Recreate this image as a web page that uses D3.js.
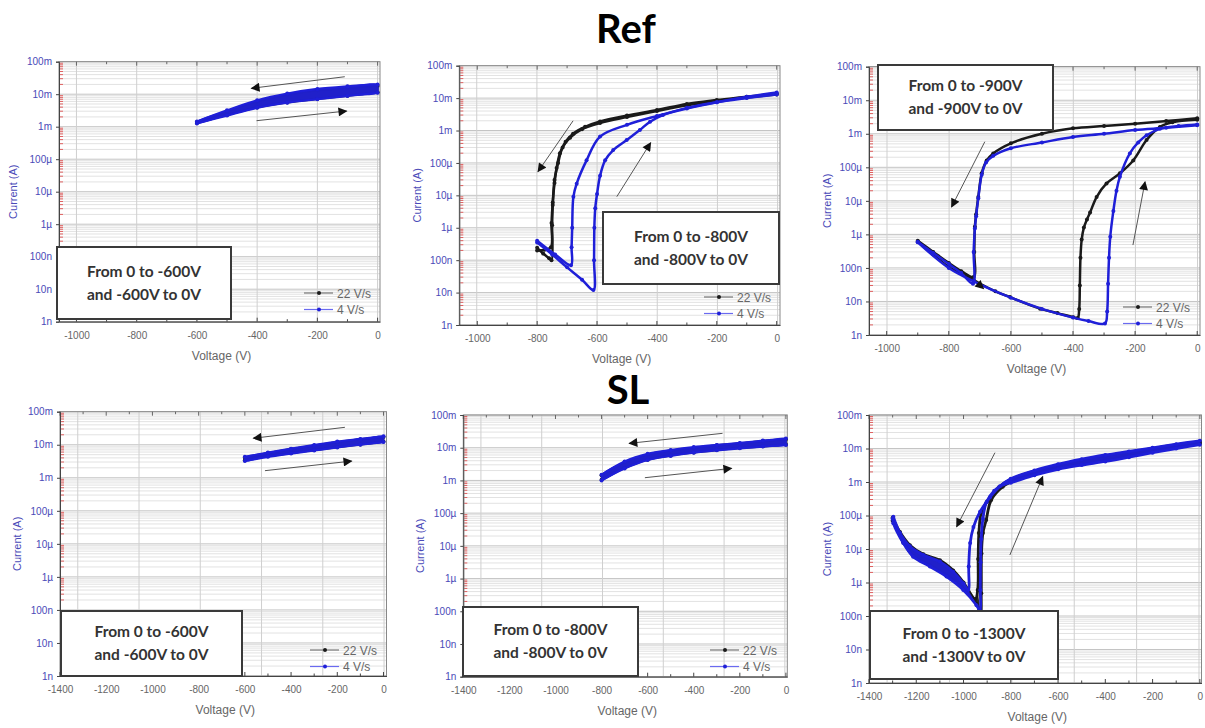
<!DOCTYPE html>
<html><head><meta charset="utf-8">
<script src="https://cdn.jsdelivr.net/npm/d3@7"></script>
<style>body{margin:0;background:#fff;} svg{display:block}</style>
</head><body>
<svg id="c" width="1205" height="728"></svg>
<script>
// ---------- labels / ticks ----------
const groupTitles = ["Ref", "SL"];
const xTicksTop = [-1000, -800, -600, -400, -200, 0];
const xTicksBottom = [-1400, -1200, -1000, -800, -600, -400, -200, 0];
const gridTicks = [-1000, -800, -600, -400, -200, 0];
const yTickValues = [1e-9, 1e-8, 1e-7, 1e-6, 1e-5, 1e-4, 1e-3, 1e-2, 1e-1];
const yTickLabels = ["1n", "10n", "100n", "1µ", "10µ", "100µ", "1m", "10m", "100m"];
const seriesNames = ["22 V/s", "4 V/s"];
const xLabel = "Voltage (V)";
const yLabel = "Current (A)";
const boxTexts = [
  ["From 0 to -600V", "and -600V to 0V"],
  ["From 0 to -800V", "and -800V to 0V"],
  ["From 0 to -900V", "and -900V to 0V"],
  ["From 0 to -600V", "and -600V to 0V"],
  ["From 0 to -800V", "and -800V to 0V"],
  ["From 0 to -1300V", "and -1300V to 0V"]
];

// ---------- data: [voltage (V), current (A)] ----------
// Ref, 0 to -600 V
const ref600_22_fwd = [[0,1.8e-2],[-100,1.55e-2],[-200,1.3e-2],[-300,9.5e-3],[-400,6.0e-3],[-500,3.0e-3],[-600,1.4e-3]];
const ref600_22_ret = [[-600,1.3e-3],[-500,2.3e-3],[-400,3.9e-3],[-300,5.6e-3],[-200,7.2e-3],[-100,9.0e-3],[0,1.15e-2]];
const ref600_4_fwd  = [[0,2.0e-2],[-100,1.75e-2],[-200,1.45e-2],[-300,1.05e-2],[-400,6.5e-3],[-500,3.2e-3],[-600,1.45e-3]];
const ref600_4_ret  = [[-600,1.25e-3],[-500,2.2e-3],[-400,3.8e-3],[-300,5.5e-3],[-200,7.0e-3],[-100,8.8e-3],[0,1.1e-2]];
// Ref, 0 to -800 V
const ref800_22_fwd = [[0,1.4e-2],[-100,1.1e-2],[-200,8.7e-3],[-300,6.6e-3],[-400,4.3e-3],[-500,2.9e-3],[-590,1.9e-3],[-640,1.3e-3],[-680,8e-4],[-705,4.5e-4],[-724,2e-4],[-735,7e-5],[-742,2.4e-5],[-748,6e-6],[-752,1.4e-6],[-754,2.5e-7],[-775,2.1e-7],[-800,2.0e-7]];
const ref800_22_ret = [[-800,2.4e-7],[-780,1.6e-7],[-760,1.15e-7],[-752,1.0e-7],[-750,1.2e-6],[-748,5e-6],[-742,3e-5],[-730,1e-4],[-715,3e-4],[-690,6e-4],[-650,1.1e-3],[-590,1.7e-3],[-500,2.6e-3],[-400,4.0e-3],[-300,6.0e-3],[-200,8.2e-3],[-100,1.05e-2],[0,1.3e-2]];
const ref800_4_fwd  = [[0,1.5e-2],[-100,1.1e-2],[-200,7.5e-3],[-300,4.8e-3],[-400,2.8e-3],[-500,1.5e-3],[-590,6.5e-4],[-635,1.2e-4],[-668,2.3e-5],[-679,9e-6],[-683,1e-6],[-685,2.5e-7],[-687,7e-8],[-740,1.5e-7],[-800,4e-7]];
const ref800_4_ret  = [[-800,3.5e-7],[-750,1.5e-7],[-700,6e-8],[-650,2.5e-8],[-612,1.2e-8],[-610,1e-7],[-609,1e-6],[-606,4e-6],[-600,1.1e-5],[-590,4e-5],[-573,1.2e-4],[-546,2.5e-4],[-501,5.1e-4],[-457,1.04e-3],[-423,1.87e-3],[-380,3.0e-3],[-300,5.0e-3],[-200,7.5e-3],[-100,1.0e-2],[0,1.3e-2]];
// Ref, 0 to -900 V
const ref900_22_fwd = [[0,2.9e-3],[-100,2.4e-3],[-200,2.0e-3],[-300,1.7e-3],[-400,1.45e-3],[-500,1.0e-3],[-600,5.2e-4],[-657,2.6e-4],[-678,1.6e-4],[-694,6.6e-5],[-705,1.3e-5],[-712,4e-6],[-716,1.7e-6],[-718,3e-7],[-720,5.4e-8],[-760,8e-8],[-800,1.4e-7],[-850,3e-7],[-900,6.5e-7]];
const ref900_22_ret = [[-900,6e-7],[-850,2.5e-7],[-800,1.07e-7],[-720,4.3e-8],[-650,2e-8],[-603,1.35e-8],[-506,6.1e-9],[-450,4.5e-9],[-399,3.4e-9],[-385,3.2e-9],[-380,6e-9],[-378,3e-8],[-376,2e-7],[-372,7e-7],[-365,1.6e-6],[-355,2.8e-6],[-345,4.5e-6],[-324,1.3e-5],[-292,3.3e-5],[-249,6.6e-5],[-206,1.6e-4],[-163,6.5e-4],[-120,1.6e-3],[-80,2.2e-3],[0,2.6e-3]];
const ref900_4_fwd  = [[0,1.8e-3],[-100,1.5e-3],[-200,1.3e-3],[-300,1.0e-3],[-400,8e-4],[-500,5.5e-4],[-600,3.7e-4],[-657,2.2e-4],[-680,1.4e-4],[-694,6e-5],[-705,1.2e-5],[-712,3.5e-6],[-716,1.5e-6],[-720,3e-7],[-722,3.4e-8],[-760,7e-8],[-800,1.3e-7],[-850,2.8e-7],[-900,6e-7]];
const ref900_4_ret  = [[-900,5.8e-7],[-800,1.0e-7],[-720,4e-8],[-600,1.3e-8],[-500,6e-9],[-400,3.3e-9],[-350,2.6e-9],[-297,2.2e-9],[-290,5e-9],[-287,3.4e-8],[-284,2e-7],[-280,8.5e-7],[-270,5e-6],[-260,2e-5],[-249,5.2e-5],[-217,2.6e-4],[-190,5.5e-4],[-163,9e-4],[-120,1.4e-3],[-60,1.7e-3],[0,1.9e-3]];
// SL, 0 to -600 V
const sl600_22_fwd = [[0,1.7e-2],[-100,1.45e-2],[-200,1.2e-2],[-300,9.5e-3],[-400,7.4e-3],[-500,5.6e-3],[-600,4.1e-3]];
const sl600_22_ret = [[-600,3.4e-3],[-500,4.5e-3],[-400,5.6e-3],[-300,6.9e-3],[-200,8.5e-3],[-100,1.02e-2],[0,1.25e-2]];
const sl600_4_fwd  = [[0,1.8e-2],[-100,1.5e-2],[-200,1.25e-2],[-300,9.8e-3],[-400,7.6e-3],[-500,5.8e-3],[-600,4.3e-3]];
const sl600_4_ret  = [[-600,3.2e-3],[-500,4.3e-3],[-400,5.4e-3],[-300,6.7e-3],[-200,8.3e-3],[-100,1.0e-2],[0,1.2e-2]];
// SL, 0 to -800 V
const sl800_22_fwd = [[0,1.8e-2],[-100,1.6e-2],[-200,1.35e-2],[-300,1.18e-2],[-400,1.0e-2],[-500,8.2e-3],[-600,6.2e-3],[-700,3.6e-3],[-800,1.45e-3]];
const sl800_22_ret = [[-800,1.05e-3],[-700,2.4e-3],[-600,4.3e-3],[-500,5.8e-3],[-400,7.2e-3],[-300,8.5e-3],[-200,9.8e-3],[-100,1.1e-2],[0,1.25e-2]];
const sl800_4_fwd  = [[0,1.9e-2],[-100,1.65e-2],[-200,1.4e-2],[-300,1.22e-2],[-400,1.05e-2],[-500,8.5e-3],[-600,6.5e-3],[-700,3.8e-3],[-800,1.5e-3]];
const sl800_4_ret  = [[-800,1.0e-3],[-700,2.3e-3],[-600,4.2e-3],[-500,5.6e-3],[-400,7.0e-3],[-300,8.3e-3],[-200,9.6e-3],[-100,1.08e-2],[0,1.2e-2]];
// SL, 0 to -1300 V
const sl1300_22_fwd = [[0,1.6e-2],[-100,1.3e-2],[-200,1.0e-2],[-300,7.8e-3],[-400,6.0e-3],[-500,4.5e-3],[-600,3.2e-3],[-700,2.1e-3],[-800,1.2e-3],[-850,7e-4],[-900,2.6e-4],[-925,1.2e-4],[-935,3e-5],[-938,5e-6],[-940,6e-7],[-950,3.2e-7],[-1000,1.0e-6],[-1044,2.3e-6],[-1100,4.6e-6],[-1170,7e-6],[-1227,1.3e-5],[-1269,3.2e-5],[-1300,8.5e-5]];
const sl1300_22_ret = [[-1300,7e-5],[-1255,1.6e-5],[-1213,6.2e-6],[-1142,3.3e-6],[-1072,1.7e-6],[-1001,7e-7],[-945,2.3e-7],[-928,1.2e-7],[-925,4.8e-7],[-924,7.4e-6],[-918,3e-5],[-904,7.4e-5],[-883,2.9e-4],[-834,7.2e-4],[-800,1e-3],[-700,1.8e-3],[-600,2.7e-3],[-500,3.6e-3],[-400,4.6e-3],[-300,6.2e-3],[-200,8.2e-3],[-100,1.1e-2],[0,1.4e-2]];
const sl1300_4_fwd  = [[0,1.7e-2],[-100,1.35e-2],[-200,1.05e-2],[-300,8.2e-3],[-400,6.4e-3],[-500,4.8e-3],[-600,3.4e-3],[-700,2.2e-3],[-800,1.25e-3],[-846,7.5e-4],[-888,3.5e-4],[-930,1.3e-4],[-958,4.5e-5],[-972,1.5e-5],[-978,3e-6],[-980,6e-7],[-1001,9.5e-7],[-1044,2.1e-6],[-1100,4.2e-6],[-1170,6.6e-6],[-1227,1.2e-5],[-1269,3e-5],[-1297,9.2e-5]];
const sl1300_4_ret  = [[-1300,8e-5],[-1297,5.9e-5],[-1255,1.5e-5],[-1213,5.9e-6],[-1142,3e-6],[-1072,1.5e-6],[-1001,6e-7],[-945,2.1e-7],[-930,1.4e-7],[-929,6e-7],[-928,4e-6],[-925,2e-5],[-918,8e-5],[-903,2.5e-4],[-870,5.5e-4],[-830,8.5e-4],[-800,9.5e-4],[-700,1.6e-3],[-600,2.4e-3],[-500,3.2e-3],[-400,4.1e-3],[-300,5.5e-3],[-200,7.5e-3],[-100,1.0e-2],[0,1.3e-2]];

// sweep-direction arrows: [[V0,I0],[V1,I1]] (arrowhead at second point)
const ref600_arrows  = [[[-109,3.45e-2],[-419,1.52e-2]], [[-402,1.53e-3],[-103,3.04e-3]]];
const ref800_arrows  = [[[-680,2.0e-3],[-797,5.4e-5]], [[-534,9.1e-6],[-421,4.2e-4]]];
const ref900_arrows  = [[[-684,5.8e-4],[-791,6.6e-6]], [[-207,4.8e-7],[-168,3.7e-5]], [[-706,3.4e-8],[-688,2.4e-8]]];
const sl600_arrows   = [[[-167,3.37e-2],[-563,1.57e-2]], [[-513,1.64e-3],[-138,3.2e-3]]];
const sl800_arrows   = [[[-275,2.75e-2],[-680,1.36e-2]], [[-612,1.21e-3],[-236,2.34e-3]]];
const sl1300_arrows  = [[[-867,7.5e-3],[-1029,4.65e-5]], [[-804,6.6e-6],[-665,1.44e-3]]];

// ---------- layout ----------
const colors = ["#1a1a1a", "#1f1fd8"];
// band fills: per series, list of [fwdStart, fwdEnd, retStart, retEnd] index slices of the loop branches
const FULL = [[0, undefined, 0, undefined]];
const panels = [
  {L:59, R:380, T:61.7, B:321.7, xd:[-1058,8], ticks:xTicksTop, yl:13, box:[57,247,174,72], leg:[304,293], fills:[FULL, FULL], sw:2.2,
   series:[[ref600_22_fwd, ref600_22_ret],[ref600_4_fwd, ref600_4_ret]], arrows:ref600_arrows, text:0},
  {L:459.3, R:780, T:65.7, B:325, xd:[-1060,11], ticks:xTicksTop, yl:416.7, box:[603,212,176,72], leg:[704,297], fills:null, sw:2.5,
   series:[[ref800_22_fwd, ref800_22_ret],[ref800_4_fwd, ref800_4_ret]], arrows:ref800_arrows, text:1},
  {L:869, R:1200, T:66.7, B:335, xd:[-1057,9], ticks:xTicksTop, yl:826.7, box:[878,65,175,65], leg:[1123,307], fills:null, sw:2.5,
   series:[[ref900_22_fwd, ref900_22_ret],[ref900_4_fwd, ref900_4_ret]], arrows:ref900_arrows, text:2},
  {L:60, R:386.5, T:411.7, B:676, xd:[-1400,13], ticks:xTicksBottom, yl:16.7, box:[61,611,181,65], leg:[310,650], fills:[FULL, FULL], sw:2.2,
   series:[[sl600_22_fwd, sl600_22_ret],[sl600_4_fwd, sl600_4_ret]], arrows:sl600_arrows, text:3},
  {L:463.3, R:787.3, T:415, B:676.7, xd:[-1400,6], ticks:xTicksBottom, yl:420, box:[463,607,175,69], leg:[710,650], fills:[FULL, FULL], sw:2.2,
   series:[[sl800_22_fwd, sl800_22_ret],[sl800_4_fwd, sl800_4_ret]], arrows:sl800_arrows, text:4},
  {L:869, R:1201.5, T:415, B:683, xd:[-1400,7], ticks:xTicksBottom, yl:826.7, box:[870,611,188,68], leg:null, sw:2.8,
   fills:[[[0,10,13,undefined],[14,undefined,0,8]], [[0,10,15,undefined],[15,undefined,0,9]]],
   series:[[sl1300_22_fwd, sl1300_22_ret],[sl1300_4_fwd, sl1300_4_ret]], arrows:sl1300_arrows, text:5}
];

const svg = d3.select("#c");
svg.append("rect").attr("width",1205).attr("height",728).attr("fill","#fff");
const defs = svg.append("defs");
defs.append("marker").attr("id","ah").attr("viewBox","0 0 10 10").attr("refX",9).attr("refY",5)
  .attr("markerWidth",10).attr("markerHeight",9).attr("markerUnits","userSpaceOnUse").attr("orient","auto")
  .append("path").attr("d","M0,0 L10,5 L0,10 Z").attr("fill","#111");

// titles
svg.append("text").attr("x",626).attr("y",43).attr("text-anchor","middle")
  .attr("font-family","Lato, 'Open Sans', sans-serif").attr("font-weight","bold").attr("font-size",40).text(groupTitles[0]);
svg.append("text").attr("x",628).attr("y",404).attr("text-anchor","middle")
  .attr("font-family","Lato, 'Open Sans', sans-serif").attr("font-weight","bold").attr("font-size",40).text(groupTitles[1]);

const minorVals = [];
yTickValues.slice(0,-1).forEach(d => { for (let k=2;k<=9;k++) minorVals.push(d*k); });

panels.forEach((p, pi) => {
  const g = svg.append("g");
  const x = d3.scaleLinear().domain(p.xd).range([p.L, p.R]);
  const gx = d3.scaleLinear().domain([-1058, 8]).range([p.L, p.R]);
  const y = d3.scaleLog().domain([1e-9, 1e-1]).range([p.B, p.T]);

  // grid
  g.selectAll(".hm").data(minorVals).join("line")
    .attr("x1",p.L).attr("x2",p.R).attr("y1",d=>y(d)).attr("y2",d=>y(d))
    .attr("stroke","#e2e2e2").attr("stroke-width",1);
  g.selectAll(".hM").data(yTickValues).join("line")
    .attr("x1",p.L).attr("x2",p.R).attr("y1",d=>y(d)).attr("y2",d=>y(d))
    .attr("stroke","#c4c4c4").attr("stroke-width",1);
  g.selectAll(".vg").data(gridTicks).join("line")
    .attr("x1",d=>gx(d)).attr("x2",d=>gx(d)).attr("y1",p.T).attr("y2",p.B)
    .attr("stroke","#cfcfcf").attr("stroke-width",1);

  // red minor ticks on left axis
  g.selectAll(".rt").data(minorVals).join("line")
    .attr("x1",p.L+1).attr("x2",p.L+4).attr("y1",d=>y(d)).attr("y2",d=>y(d))
    .attr("stroke","#e06060").attr("stroke-width",1);

  // frame
  g.append("rect").attr("x",p.L).attr("y",p.T).attr("width",p.R-p.L).attr("height",p.B-p.T)
    .attr("fill","none").attr("stroke","#888").attr("stroke-width",1);

  // data
  const line = d3.line().x(d=>x(d[0])).y(d=>y(d[1])).curve(d3.curveCatmullRom.alpha(0.5));
  const loop = d3.line().x(d=>x(d[0])).y(d=>y(d[1])).curve(d3.curveCatmullRomClosed.alpha(0.5));
  const poly = d3.line().x(d=>x(d[0])).y(d=>y(d[1])).curve(d3.curveLinearClosed);
  p.series.forEach((branches, si) => {
    const c = colors[si];
    const sg = g.append("g");
    if (p.fills) {
      p.fills[si].forEach(f => {
        const pts = branches[0].slice(f[0], f[1]).concat(branches[1].slice(f[2], f[3]));
        const gen = (f === FULL[0]) ? loop : poly;
        sg.append("path").attr("d", gen(pts)).attr("fill", c).attr("fill-opacity", 0.92).attr("stroke","none");
      });
    }
    branches.forEach(b => {
      sg.append("path").attr("d", line(b)).attr("fill","none").attr("stroke",c)
        .attr("stroke-width",p.sw).attr("stroke-linejoin","round");
      sg.selectAll(null).data(b).join("circle")
        .attr("cx",d=>x(d[0])).attr("cy",d=>y(d[1])).attr("r",2).attr("fill",c);
    });
  });

  // axes
  const xa = g.append("g").attr("transform",`translate(0,${p.B})`)
    .call(d3.axisBottom(x).tickValues(p.ticks).tickSize(0).tickPadding(10).tickFormat(d=>d));
  xa.select(".domain").attr("stroke","#444");
  xa.selectAll("text").attr("font-family","'Liberation Sans', Arial, sans-serif").attr("font-size",10).attr("fill","#666");
  const minorX = d3.range(p.xd[0] < -1100 ? -1400 : -1000, 1, 100);
  g.selectAll(".xt").data(minorX).join("line")
    .attr("x1",d=>x(d)).attr("x2",d=>x(d)).attr("y1",p.B).attr("y2",d=> d%200===0 ? p.B-4 : p.B-2.5)
    .attr("stroke","#444");
  g.selectAll(".xtt").data(minorX).join("line")
    .attr("x1",d=>x(d)).attr("x2",d=>x(d)).attr("y1",p.T).attr("y2",d=> d%200===0 ? p.T+4 : p.T+2.5)
    .attr("stroke","#666");
  const ya = g.append("g").attr("transform",`translate(${p.L},0)`)
    .call(d3.axisLeft(y).tickValues(yTickValues).tickSize(3).tickPadding(4).tickFormat((d,i)=>yTickLabels[i]));
  ya.select(".domain").attr("stroke","#444");
  ya.selectAll("line").attr("stroke","#444");
  ya.selectAll("text").attr("font-family","'Liberation Sans', Arial, sans-serif").attr("font-size",10).attr("fill","#4a4ab8");

  g.append("text").attr("x",(p.L+p.R)/2 + 2).attr("y",p.B+38).attr("text-anchor","middle")
    .attr("font-family","'Liberation Sans', Arial, sans-serif").attr("font-size",12).attr("fill","#666").text(xLabel);
  g.append("text").attr("transform",`translate(${p.yl},${(p.T+p.B)/2}) rotate(-90)`).attr("text-anchor","middle")
    .attr("dy","0.35em").attr("font-family","'Liberation Sans', Arial, sans-serif").attr("font-size",11)
    .attr("fill","#4a4ab8").text(yLabel);

  // arrows
  g.selectAll(".ar").data(p.arrows).join("line")
    .attr("x1",d=>x(d[0][0])).attr("y1",d=>y(d[0][1])).attr("x2",d=>x(d[1][0])).attr("y2",d=>y(d[1][1]))
    .attr("stroke","#555").attr("stroke-width",1).attr("marker-end","url(#ah)");

  // legend
  if (p.leg) {
    seriesNames.forEach((n, si) => {
      const ly = p.leg[1] + si*16.5;
      g.append("line").attr("x1",p.leg[0]).attr("x2",p.leg[0]+29).attr("y1",ly).attr("y2",ly)
        .attr("stroke", si===0 ? "#777" : "#6a6af0").attr("stroke-width",1.2);
      g.append("circle").attr("cx",p.leg[0]+15).attr("cy",ly).attr("r",2).attr("fill",colors[si]);
      g.append("text").attr("x",p.leg[0]+33).attr("y",ly+4.5)
        .attr("font-family","'Liberation Sans', Arial, sans-serif").attr("font-size",12).attr("fill","#666").text(n);
    });
  }

  // annotation box
  const [bx,by,bw,bh] = p.box;
  g.append("rect").attr("x",bx).attr("y",by).attr("width",bw).attr("height",bh)
    .attr("fill","#fff").attr("stroke","#3a3a3a").attr("stroke-width",2);
  boxTexts[p.text].forEach((t, li) => {
    g.append("text").attr("x",bx+bw/2).attr("y",by+bh/2 + (li===0 ? -11.5 : 11.5)).attr("dy","0.35em")
      .attr("text-anchor","middle").attr("font-family","Lato, 'Open Sans', sans-serif").attr("font-weight","bold")
      .attr("font-size",15.5).attr("fill","#333").text(t);
  });
});
</script>
</body></html>
